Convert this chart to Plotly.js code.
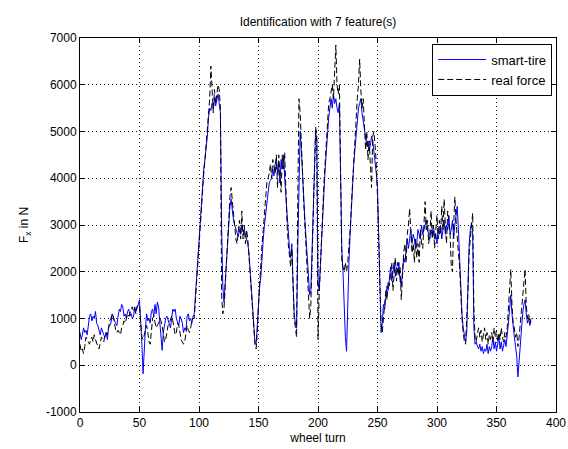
<!DOCTYPE html>
<html>
<head>
<meta charset="utf-8">
<script src="https://cdn.plot.ly/plotly-3.0.1.min.js"></script>
<style>html,body{margin:0;padding:0;background:#fff;}#chart{width:568px;height:449px;}</style>
</head>
<body>
<div id="chart"></div>
<script>
var titleText = "Identification with 7 feature(s)";
var xTitle = "wheel turn";
var yTitle = "F<sub>x</sub> in N";
var seriesNames = ["smart-tire", "real force"];
var xTicks = [0, 50, 100, 150, 200, 250, 300, 350, 400];
var yTicks = [-1000, 0, 1000, 2000, 3000, 4000, 5000, 6000, 7000];

var smartTire = [
700, 550, 650, 800, 700, 750, 650, 850, 1050, 1100,
950, 1050, 1000, 1150, 900, 850, 750, 650, 800, 700,
650, 600, 700, 550, 800, 850, 900, 1100, 1000, 950,
900, 850, 1050, 1200, 1150, 1300, 1250, 1050, 1100, 1000,
1150, 1200, 1050, 1100, 1000, 1050, 1250, 1150, 1250, 1300,
1400, 1000, 450, -180, 400, 800, 1100, 950, 1000, 900,
1150, 1200, 1050, 1300, 1100, 1350, 1250, 900, 600, 320,
700, 900, 1000, 1050, 950, 850, 800, 1000, 1200, 1150,
1200, 1000, 900, 850, 1050, 1000, 900, 700, 800, 750,
1050, 1100, 950, 1000, 900, 1050, 1100, 1500, 1900, 2200,
2700, 3200, 3600, 3900, 4200, 4400, 4600, 4900, 5300, 5500,
5450, 5600, 5500, 5700, 5550, 5650, 5800, 5600, 5400, 3000,
1700, 1350, 1800, 2200, 2600, 3100, 3400, 3550, 3300, 3100,
3000, 2900, 2800, 2750, 2900, 2800, 3000, 2850, 2900, 2800,
2700, 2600, 2400, 2000, 1600, 1100, 700, 500, 450, 900,
1500, 1700, 1900, 2400, 2700, 3000, 3200, 3400, 3700, 3900,
3950, 4000, 4200, 4050, 4300, 4400, 4100, 4300, 3900, 4400,
4200, 4500, 4000, 3600, 3200, 2800, 2500, 2300, 2600, 1800,
1100, 900, 800, 2500, 4200, 5000, 4600, 4000, 3600, 3100,
2700, 2300, 1800, 1500, 1600, 2500, 3500, 4500, 5000, 4800,
1800, 1600, 2200, 2700, 3200, 3700, 4200, 4600, 5000, 5300,
5500, 5700, 5500, 5800, 5600, 5700, 5500, 5400, 5600, 4000,
2500, 2000, 1200, 600, 300, 1500, 2200, 2800, 3200, 3800,
4300, 4600, 5000, 5300, 5500, 5600, 5700, 5400, 5200, 5000,
4900, 4700, 4800, 4600, 4700, 4900, 4800, 4600, 4400, 4100,
3800, 2800, 1500, 700, 900, 1300, 1200, 1500, 1700, 1600,
1900, 2100, 1800, 2000, 2200, 1900, 2100, 2000, 2200, 1800,
1700, 2000, 2300, 2200, 2500, 2700, 2500, 2700, 2900, 2600,
2800, 2700, 2500, 2600, 2900, 2800, 2700, 3000, 2800, 2900,
3000, 3100, 2900, 2800, 2700, 2900, 2800, 3000, 2700, 2800,
2600, 2900, 2800, 3000, 2700, 2900, 3100, 2800, 3000, 2900,
3200, 2800, 2900, 3100, 2700, 3000, 3200, 3400, 2900, 2300,
1600, 1100, 800, 600, 500, 700, 1800, 2600, 2900, 3050,
2800, 800, 450, 500, 400, 350, 450, 300, 400, 250,
350, 300, 450, 250, 400, 300, 400, 600, 350, 500,
300, 450, 600, 350, 500, 300, 450, 550, 400, 600,
900, 1200, 1500, 1100, 800, 600, 400, 200, -250, 100,
500, 800, 1100, 1300, 1400, 1100, 900, 1000, 850, 950
];

var realForce = [
450, 300, 350, 250, 400, 600, 550, 500, 450, 550,
600, 500, 650, 550, 450, 400, 350, 500, 600, 550,
500, 650, 700, 650, 850, 950, 1000, 1100, 1050, 900,
750, 700, 750, 700, 650, 800, 850, 950, 900, 1000,
1100, 1050, 1100, 1200, 1250, 1150, 1200, 1100, 1250, 1300,
1250, 900, 600, 550, 650, 800, 850, 700, 500, 450,
800, 1000, 1050, 900, 800, 850, 900, 1000, 950, 850,
600, 500, 550, 700, 850, 900, 1000, 1050, 950, 750,
650, 700, 900, 850, 700, 550, 500, 450, 500, 650,
850, 750, 700, 800, 950, 1000, 1000, 1400, 1800, 2100,
2600, 3100, 3500, 3800, 4100, 4400, 4700, 5000, 5400, 5700,
6400, 5700, 5400, 5900, 5600, 5800, 6000, 5900, 5500, 1500,
1100, 1200, 1700, 2100, 2500, 3000, 3600, 3800, 3500, 3300,
2900, 2700, 2600, 2900, 3100, 2700, 3300, 2700, 3000, 2600,
2900, 2700, 2300, 1900, 1500, 1200, 800, 450, 350, 700,
1300, 1800, 2200, 2600, 2900, 3300, 3600, 3900, 4000, 4100,
4300, 4000, 4400, 4200, 4100, 4500, 3800, 4500, 4100, 3700,
4500, 4200, 4550, 3500, 3000, 2600, 2300, 2100, 2500, 1500,
1000, 800, 600, 3500, 5700, 5400, 4600, 4100, 3500, 3000,
2500, 2000, 1500, 1000, 1300, 2400, 3400, 4600, 5100, 4900,
550, 1500, 2000, 2800, 3300, 3900, 4400, 4700, 5200, 5600,
5700, 5900, 6000, 5700, 6300, 6850, 6000, 5800, 6000, 3500,
2200, 2100, 2000, 2200, 2000, 2200, 2500, 2900, 3400, 3900,
4500, 4800, 5200, 5700, 6000, 6550, 5900, 5500, 5700, 4900,
4600, 5000, 4400, 4800, 4200, 3800, 4900, 5000, 4700, 4300,
3600, 2500, 1500, 900, 700, 1000, 1400, 1600, 1400, 1800,
1700, 2000, 2200, 1600, 2100, 2300, 1800, 2200, 1900, 2100,
1400, 2000, 2400, 2600, 2200, 2800, 3000, 3350, 2700, 2400,
2600, 2200, 2700, 2300, 2600, 2200, 2900, 2600, 2500, 3200,
3500, 2900, 3100, 2600, 2800, 3300, 2700, 3000, 2500, 2900,
3200, 2700, 3100, 2800, 3400, 2900, 3550, 3000, 2600, 3300,
3000, 2800, 2100, 2000, 3000, 3600, 3100, 2600, 2400, 2100,
1400, 1000, 700, 500, 450, 900, 1600, 2400, 2800, 3000,
3250, 1200, 600, 500, 700, 800, 600, 750, 500, 650,
800, 550, 700, 450, 650, 550, 700, 500, 800, 600,
750, 500, 700, 550, 800, 600, 500, 700, 600, 800,
1300, 1700, 2050, 1300, 900, 800, 600, 700, 400, 600,
900, 1200, 1500, 1700, 2050, 1300, 1000, 1100, 900, 1000
];

var wheelTurn = smartTire.map(function (_, i) { return i; });

var font = "Liberation Sans, Arial, sans-serif";

var traces = [
  {
    x: wheelTurn, y: smartTire, name: seriesNames[0],
    type: "scatter", mode: "lines",
    line: { color: "#0000ff", width: 1 }
  },
  {
    x: wheelTurn, y: realForce, name: seriesNames[1],
    type: "scatter", mode: "lines",
    line: { color: "#000000", width: 1, dash: "6px,3px" }
  }
];

var axisCommon = {
  showline: true, linecolor: "#000", linewidth: 1, mirror: "ticks",
  ticks: "inside", ticklen: 5, tickcolor: "#000", tickwidth: 1,
  showgrid: true, gridcolor: "#222", griddash: "1px,3px", gridwidth: 1,
  zeroline: false,
  tickfont: { family: font, size: 12, color: "#000" }
};

var layout = {
  width: 568, height: 449,
  paper_bgcolor: "#fff", plot_bgcolor: "#fff",
  margin: { l: 80, r: 12, t: 38, b: 37 },
  font: { family: font, size: 12, color: "#000" },
  title: {
    text: titleText, font: { family: font, size: 12, color: "#000" },
    x: 0.5, xref: "paper", y: 1 - 22 / 449, yref: "container", yanchor: "middle"
  },
  xaxis: Object.assign({}, axisCommon, {
    range: [0, 400], tickvals: xTicks, ticktext: xTicks.map(String),
    title: { text: xTitle, font: { family: font, size: 12, color: "#000" }, standoff: 4 }
  }),
  yaxis: Object.assign({}, axisCommon, {
    range: [-1000, 7000], tickvals: yTicks, ticktext: yTicks.map(String),
    title: { text: yTitle, font: { family: font, size: 12, color: "#000" }, standoff: 14 }
  }),
  showlegend: true,
  legend: {
    x: 0.992, xanchor: "right", y: 0.985, yanchor: "top",
    bgcolor: "#fff", bordercolor: "#000", borderwidth: 1,
    font: { family: font, size: 13, color: "#000" },
    itemwidth: 48,
    tracegroupgap: 0
  }
};

Plotly.newPlot("chart", traces, layout, { displayModeBar: false, staticPlot: true });
</script>
</body>
</html>
